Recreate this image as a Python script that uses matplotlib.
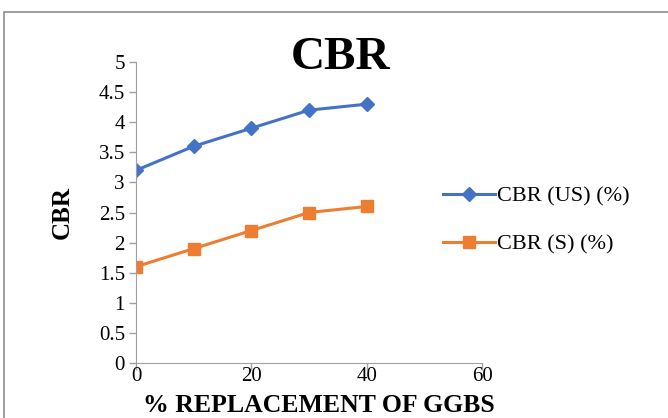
import matplotlib.pyplot as plt
from matplotlib.patches import Rectangle

plt.rcParams['font.family'] = ['Liberation Serif', 'DejaVu Serif']

ggbs = [0, 10, 20, 30, 40]
cbr_us = [3.2, 3.6, 3.9, 4.2, 4.3]
cbr_s = [1.6, 1.9, 2.2, 2.5, 2.6]
yticks = [0, 0.5, 1, 1.5, 2, 2.5, 3, 3.5, 4, 4.5, 5]
ytick_labels = ['0', '0.5', '1', '1.5', '2', '2.5', '3', '3.5', '4', '4.5', '5']
xticks = [0, 20, 40, 60]

fig = plt.figure(figsize=(6.68, 4.18), dpi=100)
# chart area frame
fig.patches.append(Rectangle((4 / 668, -0.1), 1.2, (418 - 12) / 418 + 0.1,
                             transform=fig.transFigure, fill=False,
                             edgecolor='#8c8c8c', linewidth=1.2))

ax = fig.add_axes([136 / 668, 1 - 363 / 418, (482 - 136) / 668, (363 - 62) / 418])
ax.plot(ggbs, cbr_us, color='#4472C4', lw=2.2, marker='D', ms=7, label='CBR (US) (%)')
ax.plot(ggbs, cbr_s, color='#ED7D31', lw=2.2, marker='s', ms=8, label='CBR (S) (%)')

ax.set_xlim(0, 60)
ax.set_ylim(0, 5)
ax.set_xticks(xticks)
ax.set_yticks(yticks)
ax.set_yticklabels(ytick_labels)
ax.tick_params(labelsize=15, color='#a0a0a0', length=5, width=1)
ax.tick_params(axis='x', pad=-2)
ax.tick_params(axis='y', pad=3)
for s in ['top', 'right']:
    ax.spines[s].set_visible(False)
for s in ['left', 'bottom']:
    ax.spines[s].set_color('#a0a0a0')

ax.set_xlabel('% REPLACEMENT OF GGBS', fontsize=18.5, fontweight='bold')
ax.xaxis.set_label_coords((319 - 136) / 346, -(406 - 363) / 301)
ax.xaxis.label.set_va('center')
ax.set_ylabel('CBR', fontsize=18, fontweight='bold')
ax.yaxis.set_label_coords(-(136 - 62) / 346, 0.5)
ax.yaxis.label.set_va('center')
fig.text(341 / 668, 1 - 58 / 418, 'CBR', fontsize=34, fontweight='bold',
         ha='center', va='center')

ax.legend(loc='center left', bbox_to_anchor=(423 / 668, 1 - 220.5 / 418),
          bbox_transform=fig.transFigure, frameon=False, fontsize=16,
          handlelength=2.35, handletextpad=0.1, labelspacing=1.25)

fig.savefig('out.png', dpi=100)
